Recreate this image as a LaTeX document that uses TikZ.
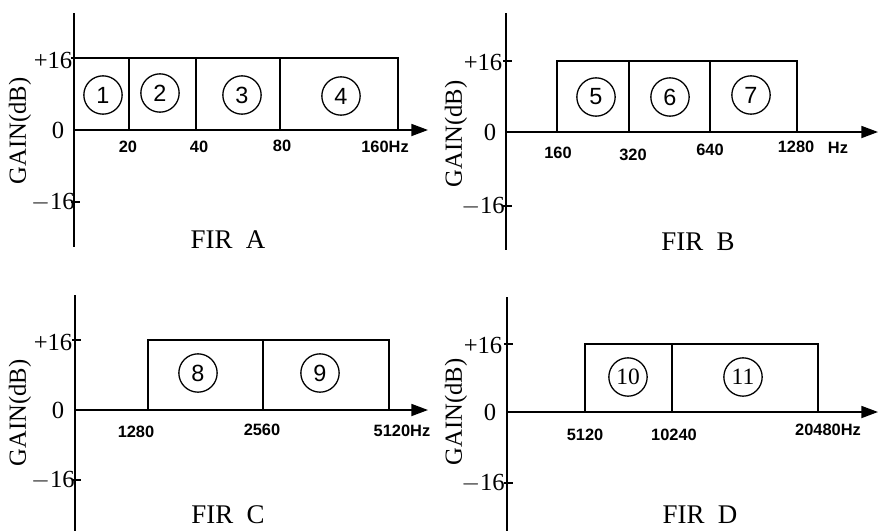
\documentclass[tikz,border=0pt]{standalone}
\usepackage{fontspec}
\setmainfont{Liberation Serif}
\setsansfont{Liberation Sans}
\usetikzlibrary{arrows.meta}
\tikzset{
  axis/.style={line width=1.5pt, draw=black},
  axisarrow/.style={axis, -{Triangle[length=0.5cm, width=0.36cm]}},
  tickmark/.style={line width=1.2pt, draw=black},
  band/.style={line width=1.2pt, draw=black},
  bandno/.style={circle, draw=black, line width=1.1pt, minimum size=1.15cm, inner sep=0pt, font=\sffamily\fontsize{20}{20}\selectfont},
  freqlabel/.style={font=\sffamily\bfseries\fontsize{14}{14}\selectfont},
  gainlabel/.style={font=\fontsize{21}{21}\selectfont},
  firlabel/.style={font=\fontsize{23}{23}\selectfont},
}
\begin{document}
\begin{tikzpicture}[x=0.03cm, y=-0.03cm]
\useasboundingbox (0,0) rectangle (878,531);
% FIR A
\coordinate (Atop) at (74,13);
\coordinate (Abot) at (74,247);
\coordinate (Aorg) at (74,130);
\coordinate (Aend) at (428,130);
\draw[axis] (Atop) -- (Abot);
\draw[axisarrow] (Aorg) -- (Aend);
\draw[tickmark] (71,58) -- (80,58);
\draw[tickmark] (71,202) -- (80,202);
\draw[band] (74,130) rectangle (398,58);
\draw[band] (129,130) -- (129,58);
\draw[band] (196,130) -- (196,58);
\draw[band] (280,130) -- (280,58);
\node[gainlabel] (Ap16) at (53,60) {+16};
\node[gainlabel] (Azero) at (58,130) {0};
\node[gainlabel] (Am16) at (53,202) {$-$16};
\node[gainlabel, rotate=90] (Again) at (20,131) {GAIN(dB)};
\node[freqlabel] (Af20) at (128,147) {20};
\node[freqlabel] (Af40) at (199,147) {40};
\node[freqlabel] (Af80) at (282,146) {80};
\node[freqlabel] (Af160) at (385,147) {160Hz};
\node[bandno] (b1) at (103,95) {1};
\node[bandno] (b2) at (160,93) {2};
\node[bandno] (b3) at (242,95) {3};
\node[bandno] (b4) at (341,96) {4};
\node[firlabel] (firA) at (228,240) {FIR\ \ A};
% FIR B
\coordinate (Btop) at (506,13);
\coordinate (Bbot) at (506,250);
\coordinate (Borg) at (506,132);
\coordinate (Bend) at (878,132);
\draw[axis] (Btop) -- (Bbot);
\draw[axisarrow] (Borg) -- (Bend);
\draw[tickmark] (503,61) -- (512,61);
\draw[tickmark] (503,206) -- (512,206);
\draw[band] (557,132) rectangle (797,61);
\draw[band] (629,132) -- (629,61);
\draw[band] (710,132) -- (710,61);
\node[gainlabel] (Bp16) at (483,62) {+16};
\node[gainlabel] (Bzero) at (490,132) {0};
\node[gainlabel] (Bm16) at (483,206) {$-$16};
\node[gainlabel, rotate=90] (Bgain) at (456,134) {GAIN(dB)};
\node[freqlabel] (Bf160) at (558,153) {160};
\node[freqlabel] (Bf320) at (633,155) {320};
\node[freqlabel] (Bf640) at (710,150) {640};
\node[freqlabel] (Bf1280) at (796,147) {1280};
\node[freqlabel] (Bhz) at (838,148) {Hz};
\node[bandno] (b5) at (596,97) {5};
\node[bandno] (b6) at (670,97) {6};
\node[bandno] (b7) at (751,95) {7};
\node[firlabel] (firB) at (698,242) {FIR\ \ B};
% FIR C
\coordinate (Ctop) at (75,295);
\coordinate (Cbot) at (75,531);
\coordinate (Corg) at (75,410);
\coordinate (Cend) at (428,410);
\draw[axis] (Ctop) -- (Cbot);
\draw[axisarrow] (Corg) -- (Cend);
\draw[tickmark] (72,340) -- (81,340);
\draw[tickmark] (72,480) -- (81,480);
\draw[band] (148,410) rectangle (389,340);
\draw[band] (263,410) -- (263,340);
\node[gainlabel] (Cp16) at (53,342) {+16};
\node[gainlabel] (Czero) at (58,410) {0};
\node[gainlabel] (Cm16) at (53,480) {$-$16};
\node[gainlabel, rotate=90] (Cgain) at (20,413) {GAIN(dB)};
\node[freqlabel] (Cf1280) at (136,432) {1280};
\node[freqlabel] (Cf2560) at (262,430) {2560};
\node[freqlabel] (Cf5120) at (402,431) {5120Hz};
\node[bandno] (b8) at (198,373) {8};
\node[bandno] (b9) at (320,373) {9};
\node[firlabel] (firC) at (228,515) {FIR\ \ C};
% FIR D
\coordinate (Dtop) at (507,297);
\coordinate (Dbot) at (507,531);
\coordinate (Dorg) at (507,412);
\coordinate (Dend) at (878,412);
\draw[axis] (Dtop) -- (Dbot);
\draw[axisarrow] (Dorg) -- (Dend);
\draw[tickmark] (504,344) -- (513,344);
\draw[tickmark] (504,483) -- (513,483);
\draw[band] (585,412) rectangle (818,344);
\draw[band] (672,412) -- (672,344);
\node[gainlabel] (Dp16) at (483,345) {+16};
\node[gainlabel] (Dzero) at (490,412) {0};
\node[gainlabel] (Dm16) at (483,483) {$-$16};
\node[gainlabel, rotate=90] (Dgain) at (456,412) {GAIN(dB)};
\node[freqlabel] (Df5120) at (585,435) {5120};
\node[freqlabel] (Df10240) at (674,435) {10240};
\node[freqlabel] (Df20480) at (828,430) {20480Hz};
\node[bandno, font=\fontsize{20}{20}\selectfont] (b10) at (628,377) {10};
\node[bandno, font=\fontsize{20}{20}\selectfont] (b11) at (743,377) {11};
\node[firlabel] (firD) at (700,515) {FIR\ \ D};
\end{tikzpicture}
\end{document}
